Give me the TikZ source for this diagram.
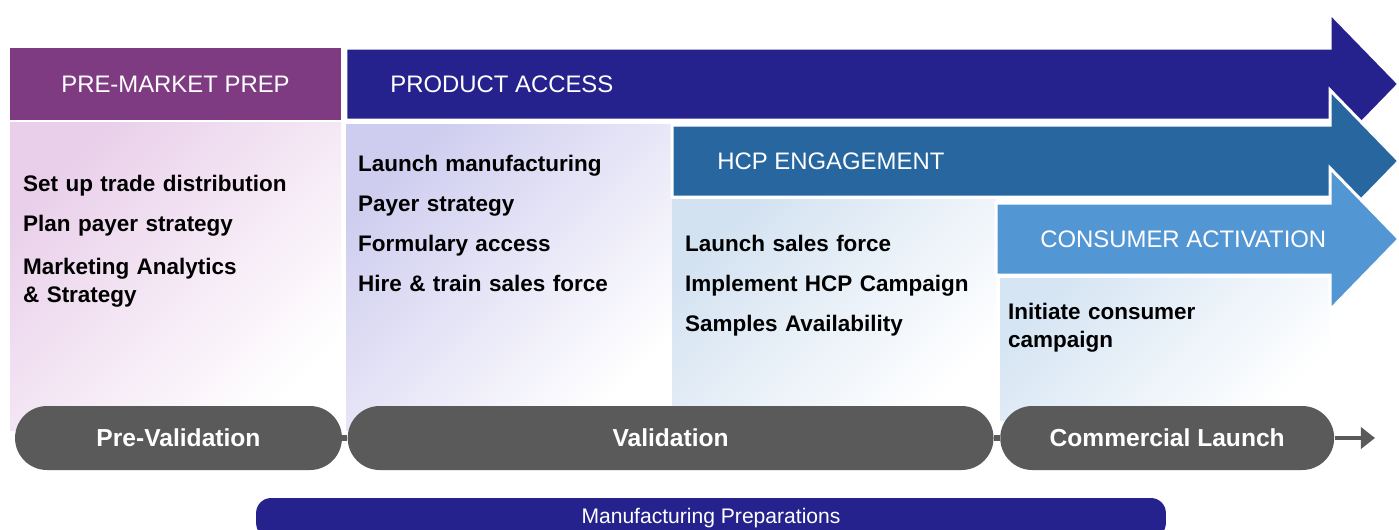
\documentclass[tikz,border=0pt]{standalone}
\usepackage{fontspec}
\setmainfont{Liberation Sans}
\usetikzlibrary{positioning,arrows.meta}

\definecolor{prepurple}{HTML}{7E3B81}
\definecolor{accessblue}{HTML}{25228E}
\definecolor{hcpblue}{HTML}{2866A0}
\definecolor{consumerblue}{HTML}{5396D4}
\definecolor{pillgray}{HTML}{5A5A5A}
\definecolor{prepink}{HTML}{E9CFEA}
\definecolor{accesslavender}{HTML}{CFCDEF}
\definecolor{hcppale}{HTML}{D3E2F1}
\definecolor{consumerpale}{HTML}{D6E5F3}

\begin{document}
\begin{tikzpicture}[x=0.02cm, y=-0.02cm, node distance=0.8cm,
    header/.style={text=white, inner sep=0pt, font=\fontsize{13.6}{16}\selectfont},
    task/.style={text width=6.4cm, align=left, inner sep=0pt, execute at begin node=\strut, font=\bfseries\fontsize{12.8}{16}\selectfont},
    phase/.style={rectangle, rounded corners=0.64cm, fill=pillgray, text=white, minimum height=1.28cm, font=\bfseries\fontsize{14}{16}\selectfont},
    panel/.style={top color=#1, bottom color=white, shading angle=45},
    band/.style={fill=#1, draw=white, line width=1.7pt}]
    \useasboundingbox (0,0) rectangle (1399,529);

    % Panels
    \path[panel=prepink] (10,122) rectangle (341,430);
    \path[panel=accesslavender] (346,124) rectangle (672,430);
    \path[panel=hcppale] (672,199) rectangle (996,420);
    \path[panel=consumerpale] (1000,278) rectangle (1330,420);

    % Bands
    \path[band=accessblue] (346,48) -- (1330,48) -- (1330,13) -- (1399,84) -- (1330,155) -- (1330,120) -- (346,120) -- cycle;
    \path[band=hcpblue] (672,125) -- (1330,125) -- (1330,90) -- (1399,161) -- (1330,232) -- (1330,197) -- (672,197) -- cycle;
    \path[band=consumerblue] (996,203) -- (1330,203) -- (1330,168) -- (1399,239) -- (1330,310) -- (1330,275) -- (996,275) -- cycle;

    % Headers
    \node (premarket) [header, fill=prepurple, minimum width=6.62cm, minimum height=1.44cm] at (175.5,84) {PRE-MARKET PREP};
    \node (access) [header, anchor=west] at (390,84) {PRODUCT ACCESS};
    \node (hcp) [header, anchor=west] at (717,161) {HCP ENGAGEMENT};
    \node (consumer) [header, anchor=west] at (1040,239) {CONSUMER ACTIVATION};

    % Tasks
    \node (trade) [task] at (183,186) {Set up trade distribution};
    \node (payerplan) [task, below of=trade] {Plan payer strategy};
    \node (analytics) [task, node distance=1.1cm, below of=payerplan] {Marketing Analytics\\\& Strategy};

    \node (manufacturing) [task] at (518,166) {Launch manufacturing};
    \node (payer) [task, below of=manufacturing] {Payer strategy};
    \node (formulary) [task, below of=payer] {Formulary access};
    \node (hire) [task, below of=formulary] {Hire \& train sales force};

    \node (salesforce) [task] at (845,246) {Launch sales force};
    \node (campaign) [task, below of=salesforce] {Implement HCP Campaign};
    \node (samples) [task, below of=campaign] {Samples Availability};

    \node (initiate) [task] at (1168,326) {Initiate consumer\\campaign};

    % Phases
    \node (prevalid) [phase, minimum width=6.54cm] at (178.5,438) {Pre-Validation};
    \node (valid) [phase, minimum width=12.92cm, right=0.1cm of prevalid] {Validation};
    \node (launch) [phase, minimum width=6.68cm, right=0.12cm of valid] {Commercial Launch};
    \coordinate (next) at (1375,438);

    \node (mfgprep) [rectangle, rounded corners=0.3cm, fill=accessblue, text=white, minimum width=18.2cm, minimum height=0.8cm, font=\fontsize{12}{14}\selectfont] at (711,518) {Manufacturing Preparations};

    % Arrows
    \draw[pillgray, line width=3pt] (prevalid) -- (valid);
    \draw[pillgray, line width=3pt] (valid) -- (launch);
    \draw[pillgray, line width=2.8pt, -{Triangle[length=8pt, width=12pt]}] (launch) -- (next);
\end{tikzpicture}
\end{document}
